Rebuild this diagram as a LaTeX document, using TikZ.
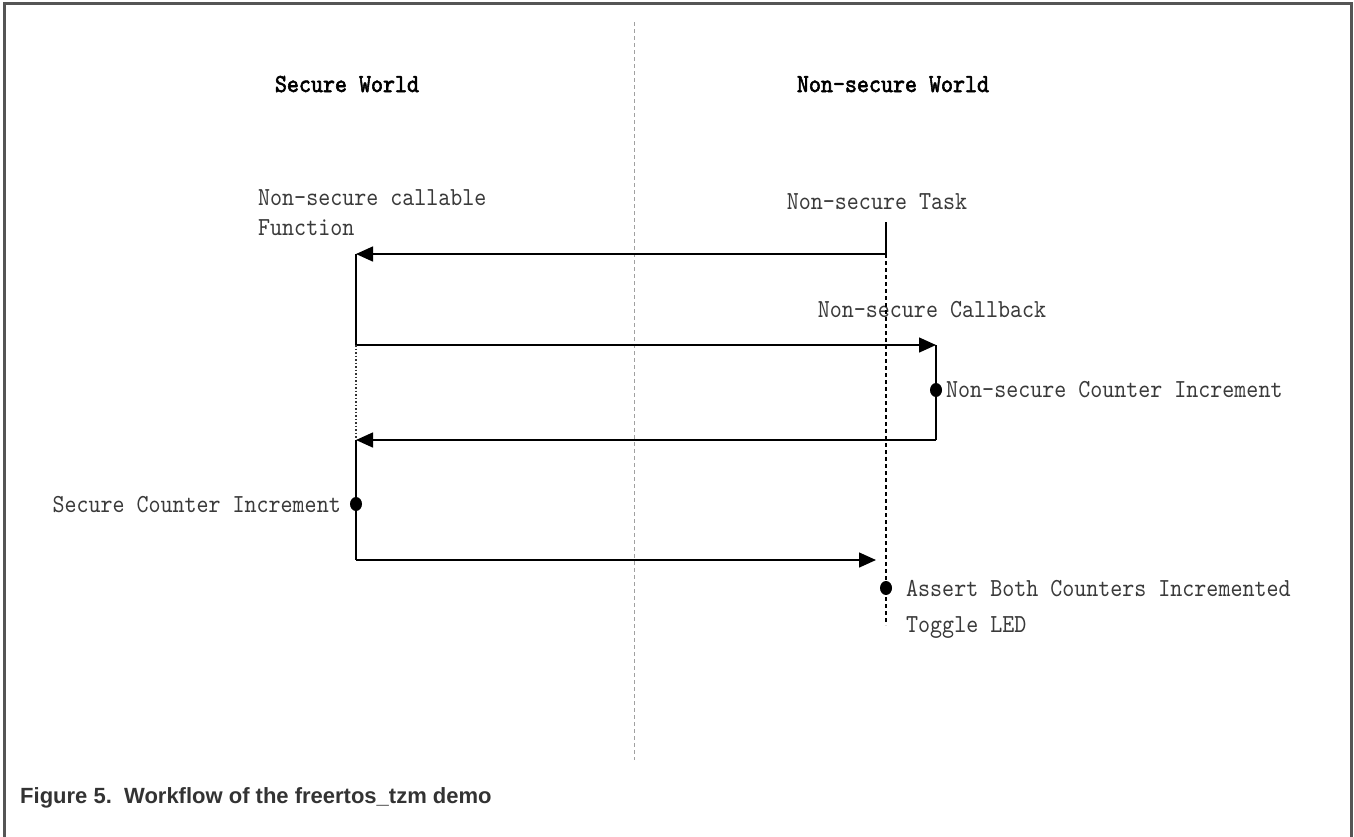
\documentclass[tikz,border=0pt]{standalone}
\usepackage{fontspec}
\usetikzlibrary{arrows.meta,shapes.geometric}
\setmainfont{Liberation Sans}
\newfontfamily\diagfont[FakeStretch=0.88]{lmmono10-regular.otf}
\newfontfamily\titlefont[FakeStretch=0.88,FakeBold=2.2]{lmmono10-regular.otf}
\definecolor{framegray}{HTML}{555555}
\definecolor{labelgray}{HTML}{3A3A3A}
\definecolor{captiongray}{HTML}{333333}
\definecolor{dividergray}{HTML}{A0A0A0}
\begin{document}
\begin{tikzpicture}[x=1pt,y=-1pt,
  lbl/.style={font=\diagfont\fontsize{26}{30}\selectfont, text=labelgray, inner sep=0pt, text height=16pt, text depth=0pt},
  ttl/.style={font=\titlefont\fontsize{26}{30}\selectfont, text=black, inner sep=0pt, text height=16pt, text depth=0pt},
  flow/.style={line width=1.5pt, black},
  msg/.style={flow, -{Triangle[length=17pt,width=15pt]}},
  life/.style={line width=1.1pt, black, dash pattern=on 4pt off 3pt},
  idle/.style={line width=1.6pt, black!80, dash pattern=on 1.5pt off 2pt},
  dot/.style={ellipse, fill=black, inner sep=0pt, minimum width=12pt, minimum height=14pt},
  frameline/.style={line width=3pt, framegray}]
\useasboundingbox (0,0) rectangle (1354,836);

% outer frame (open at the bottom)
\draw[frameline] (4,840) -- (4,3) -- (1351,3) -- (1351,840);

% divider between the two worlds
\coordinate (divTop) at (634,22);
\coordinate (divBot) at (634,760);
\draw[dividergray, line width=1pt, dash pattern=on 4pt off 3pt] (divTop) -- (divBot);

% world titles
\node[ttl] (secTitle) at (347,84) {Secure World};
\node[ttl] (nsTitle) at (893,84) {Non-secure World};

% labels
\node[lbl, align=left, anchor=west] (nscFunc) at (258,227) {Non-secure callable\\Function};
\node[lbl] (nsTask) at (877,201) {Non-secure Task};
\node[lbl] (nsCb) at (932,309) {Non-secure Callback};
\node[lbl, anchor=west] (nsCnt) at (946,389) {Non-secure Counter Increment};
\node[lbl, anchor=east] (sCnt) at (341,504) {Secure Counter Increment};
\node[lbl, anchor=west] (assert) at (906,588) {Assert Both Counters Incremented};
\node[lbl, anchor=west] (toggle) at (906,624) {Toggle LED};

% anchor points of the flow
\coordinate (taskTop) at (886,222);
\coordinate (taskCall) at (886,254);
\coordinate (taskEnd) at (886,625);
\coordinate (fnIn) at (356,254);
\coordinate (fnOut) at (356,345);
\coordinate (cbIn) at (936,345);
\coordinate (cbOut) at (936,440);
\coordinate (fnBack) at (356,440);
\coordinate (fnDone) at (356,560);
\coordinate (taskBack) at (886,560);

% non-secure task lifeline
\draw[flow] (taskTop) -- (taskCall);
\draw[life] (taskCall) -- (taskEnd);

% call into the secure function
\draw[msg] (taskCall) -- (fnIn);
\draw[flow] (fnIn) -- (fnOut);
% callback into the non-secure world
\draw[msg] (fnOut) -- (cbIn);
\draw[idle] (fnOut) -- (fnBack);
\draw[flow] (cbIn) -- (cbOut);
\draw[msg] (cbOut) -- (fnBack);
\draw[flow] (fnBack) -- (fnDone);
% return to the task
\draw[msg] (fnDone) -- ([xshift=-10pt]taskBack);

% event markers
\node[dot] (nsCntDot) at (936,390) {};
\node[dot] (sCntDot) at (356,504) {};
\node[dot] (assertDot) at (886,588) {};

% caption
\node[anchor=west, inner sep=0pt, text height=16pt, text depth=0pt, text=captiongray, font=\bfseries\fontsize{22}{26}\selectfont] (caption) at (20,795) {Figure 5.\ \ Workflow of the freertos\_tzm demo};
\end{tikzpicture}
\end{document}
